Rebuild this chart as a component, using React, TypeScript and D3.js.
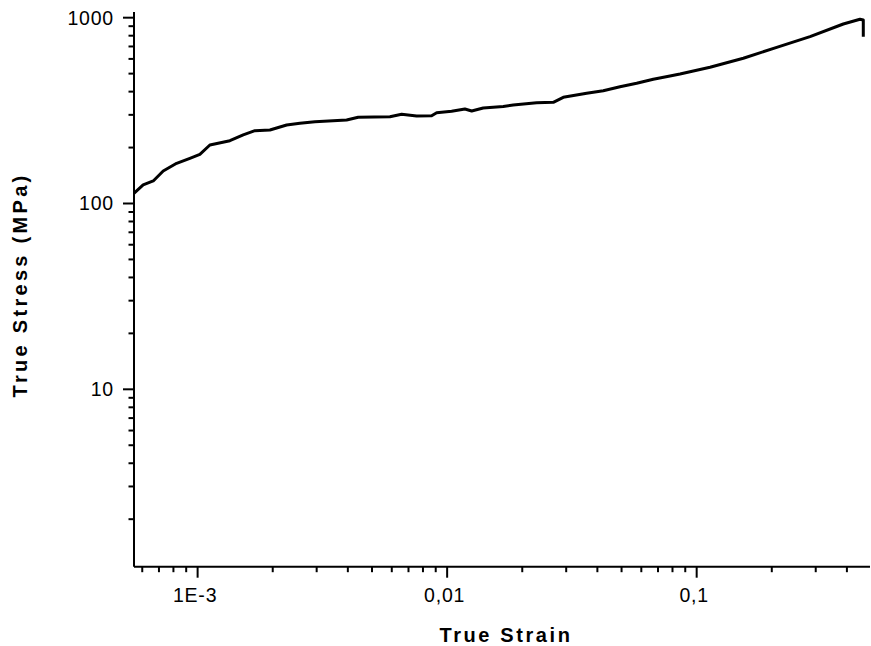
import React from "react";
import * as d3 from "d3";

const strain = [
  5.555e-4, 6.05e-4, 6.64e-4, 7.28e-4, 8.24e-4, 9.31e-4, 1.021e-3, 1.12e-3, 1.347e-3, 1.523e-3,
  1.697e-3, 1.949e-3, 2.274e-3, 2.57e-3, 2.952e-3, 3.955e-3, 4.402e-3, 5.898e-3, 6.571e-3, 7.546e-3,
  8.667e-3, 9.078e-3, 1.042e-2, 1.178e-2, 1.254e-2, 1.395e-2, 1.678e-2, 1.84e-2, 2.284e-2, 2.663e-2,
  2.92e-2, 3.624e-2, 4.224e-2, 4.928e-2, 5.748e-2, 6.7e-2, 7.816e-2, 8.573e-2, 0.1131, 0.1538,
  0.2093, 0.2846, 0.3869, 0.4513, 0.4653, 0.4653,
];
const stress = [
  113.4, 125.8, 132.2, 149.6, 164.6, 175.1, 184.0, 206.5, 217.8, 233.8,
  246.5, 248.7, 264.5, 270.1, 275.6, 281.4, 291.0, 293.2, 302.0, 295.8,
  296.9, 308.2, 313.6, 322.6, 314.8, 326.6, 333.1, 338.9, 348.7, 350.5,
  372.9, 391.8, 404.6, 425.2, 443.6, 466.2, 485.6, 497.7, 540.8, 604.6,
  692.8, 790.4, 924.9, 980.4, 971.8, 790.4,
];

const xMajor = [1e-3, 1e-2, 1e-1];
const xMajorLabels = ["1E-3", "0,01", "0,1"];
const yMajor = [10, 100, 1000];
const yMajorLabels = ["10", "100", "1000"];

const xDomain: [number, number] = [5.56e-4, 0.495];
const yDomain: [number, number] = [1.11, 1073];

const W = 871;
const H = 646;
const left = 134;
const right = 870;
const top = 12;
const bottom = 566.7;

export default function App() {
  const x = d3.scaleLog().domain(xDomain).range([left, right]);
  const y = d3.scaleLog().domain(yDomain).range([bottom, top]);

  const minorX: number[] = [];
  for (let e = -4; e <= 0; e++) {
    for (let m = 2; m <= 9; m++) {
      const v = m * Math.pow(10, e);
      if (v >= xDomain[0] && v <= xDomain[1]) minorX.push(v);
    }
  }
  const minorY: number[] = [];
  for (let e = 0; e <= 3; e++) {
    for (let m = 2; m <= 9; m++) {
      const v = m * Math.pow(10, e);
      if (v >= yDomain[0] && v <= yDomain[1]) minorY.push(v);
    }
  }

  const pts: [number, number][] = strain.map((s, i) => [s, stress[i]]);
  const line = d3
    .line<[number, number]>()
    .x((d) => x(d[0]))
    .y((d) => y(d[1]));

  const font = "'Liberation Sans', Arial, sans-serif";

  return (
    <svg
      width={W}
      height={H}
      style={{ position: "absolute", left: 0, top: 0, background: "#fff" }}
    >
      <rect x={0} y={0} width={W} height={H} fill="#fff" />
      <line x1={left} x2={left} y1={top} y2={bottom} stroke="#000" strokeWidth={2} />
      <line x1={left} x2={right} y1={bottom} y2={bottom} stroke="#000" strokeWidth={2} />
      {yMajor.map((v, i) => (
        <g key={"ym" + v}>
          <line x1={left - 11} x2={left} y1={y(v)} y2={y(v)} stroke="#000" strokeWidth={2} />
          <text
            x={114}
            y={y(v) + 7}
            textAnchor="end"
            fontFamily={font}
            fontSize={19.5}
            letterSpacing={0.8}
            fill="#000"
          >
            {yMajorLabels[i]}
          </text>
        </g>
      ))}
      {minorY.map((v) => (
        <line key={"yn" + v} x1={left - 5.5} x2={left} y1={y(v)} y2={y(v)} stroke="#000" strokeWidth={2} />
      ))}
      {xMajor.map((v, i) => (
        <g key={"xm" + v}>
          <line x1={x(v)} x2={x(v)} y1={bottom} y2={bottom + 11} stroke="#000" strokeWidth={2} />
          <text
            x={x(v) - 2.5}
            y={601.5}
            textAnchor="middle"
            fontFamily={font}
            fontSize={19.5}
            letterSpacing={0.8}
            fill="#000"
          >
            {xMajorLabels[i]}
          </text>
        </g>
      ))}
      {minorX.map((v) => (
        <line key={"xn" + v} x1={x(v)} x2={x(v)} y1={bottom} y2={bottom + 5.5} stroke="#000" strokeWidth={2} />
      ))}
      <text
        x={506}
        y={641.7}
        textAnchor="middle"
        fontFamily={font}
        fontWeight="bold"
        fontSize={20}
        letterSpacing={2.6}
        fill="#000"
      >
        True Strain
      </text>
      <text
        transform={`translate(26.7, 285) rotate(-90)`}
        textAnchor="middle"
        fontFamily={font}
        fontWeight="bold"
        fontSize={20}
        letterSpacing={3.3}
        fill="#000"
      >
        True Stress (MPa)
      </text>
      <path d={line(pts) || ""} fill="none" stroke="#000" strokeWidth={3} strokeLinejoin="round" />
    </svg>
  );
}
